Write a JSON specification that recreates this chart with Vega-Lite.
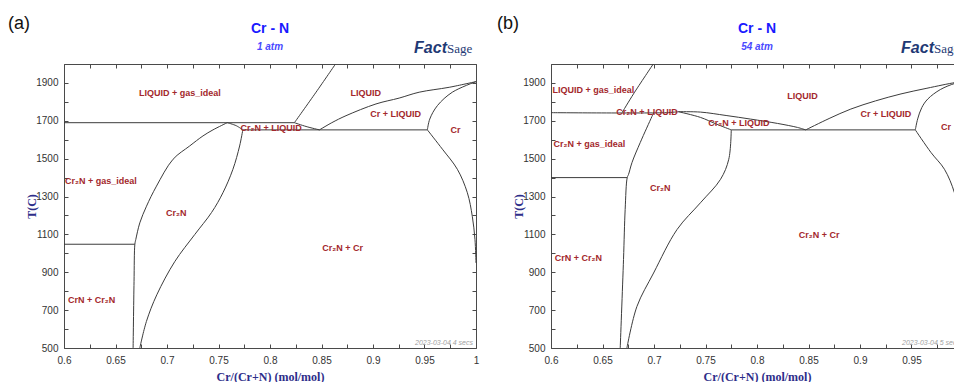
{
  "$schema": "https://vega.github.io/schema/vega-lite/v6.json",
  "usermeta": {"embedOptions": {"actions": false}},
  "padding": {"left": 8, "top": 15, "right": 0, "bottom": 0},
  "spacing": 18,
  "config": {
    "view": {"stroke": null},
    "axis": {
      "grid": false,
      "domainColor": "#4a4a4a",
      "tickColor": "#4a4a4a",
      "labelFont": "Liberation Sans",
      "labelFontSize": 10,
      "labelColor": "#333333",
      "labelFlush": false,
      "labelOverlap": false,
      "titleFont": "Liberation Serif",
      "titleFontSize": 12,
      "titleFontWeight": "bold",
      "titleColor": "#2e2e8a"
    }
  },
  "datasets": {
    "lines": [
      {"p": "a", "s": "a1", "i": 0, "x": 0.6, "t": 1690},
      {"p": "a", "s": "a1", "i": 1, "x": 0.8237, "t": 1690},
      {"p": "a", "s": "a2", "i": 0, "x": 0.8237, "t": 1690},
      {"p": "a", "s": "a2", "i": 1, "x": 0.8447, "t": 1851},
      {"p": "a", "s": "a2", "i": 2, "x": 0.8636, "t": 2000},
      {"p": "a", "s": "a3", "i": 0, "x": 0.8237, "t": 1690},
      {"p": "a", "s": "a3", "i": 1, "x": 0.835, "t": 1670},
      {"p": "a", "s": "a3", "i": 2, "x": 0.848, "t": 1652},
      {"p": "a", "s": "a4", "i": 0, "x": 0.7736, "t": 1652},
      {"p": "a", "s": "a4", "i": 1, "x": 0.9528, "t": 1652},
      {"p": "a", "s": "a5", "i": 0, "x": 0.848, "t": 1652},
      {"p": "a", "s": "a5", "i": 1, "x": 0.86, "t": 1690},
      {"p": "a", "s": "a5", "i": 2, "x": 0.8738, "t": 1727},
      {"p": "a", "s": "a5", "i": 3, "x": 0.9029, "t": 1789},
      {"p": "a", "s": "a5", "i": 4, "x": 0.9254, "t": 1820},
      {"p": "a", "s": "a5", "i": 5, "x": 0.9448, "t": 1851},
      {"p": "a", "s": "a5", "i": 6, "x": 0.974, "t": 1877},
      {"p": "a", "s": "a5", "i": 7, "x": 1.0, "t": 1907},
      {"p": "a", "s": "a6", "i": 0, "x": 0.9528, "t": 1652},
      {"p": "a", "s": "a6", "i": 1, "x": 0.9551, "t": 1709},
      {"p": "a", "s": "a6", "i": 2, "x": 0.9625, "t": 1780},
      {"p": "a", "s": "a6", "i": 3, "x": 0.977, "t": 1851},
      {"p": "a", "s": "a6", "i": 4, "x": 1.0, "t": 1907},
      {"p": "a", "s": "a7", "i": 0, "x": 0.9528, "t": 1652},
      {"p": "a", "s": "a7", "i": 1, "x": 0.9674, "t": 1550},
      {"p": "a", "s": "a7", "i": 2, "x": 0.9819, "t": 1444},
      {"p": "a", "s": "a7", "i": 3, "x": 0.9916, "t": 1320},
      {"p": "a", "s": "a7", "i": 4, "x": 0.9964, "t": 1196},
      {"p": "a", "s": "a7", "i": 5, "x": 0.999, "t": 1073},
      {"p": "a", "s": "a7", "i": 6, "x": 1.0, "t": 949},
      {"p": "a", "s": "a8", "i": 0, "x": 0.7585, "t": 1690},
      {"p": "a", "s": "a8", "i": 1, "x": 0.7446, "t": 1652},
      {"p": "a", "s": "a8", "i": 2, "x": 0.7349, "t": 1620},
      {"p": "a", "s": "a8", "i": 3, "x": 0.722, "t": 1567},
      {"p": "a", "s": "a8", "i": 4, "x": 0.7059, "t": 1497},
      {"p": "a", "s": "a8", "i": 5, "x": 0.6898, "t": 1355},
      {"p": "a", "s": "a8", "i": 6, "x": 0.6801, "t": 1249},
      {"p": "a", "s": "a8", "i": 7, "x": 0.6736, "t": 1161},
      {"p": "a", "s": "a8", "i": 8, "x": 0.6697, "t": 1073},
      {"p": "a", "s": "a8", "i": 9, "x": 0.6688, "t": 1048},
      {"p": "a", "s": "a8", "i": 10, "x": 0.668, "t": 850},
      {"p": "a", "s": "a8", "i": 11, "x": 0.6671, "t": 500},
      {"p": "a", "s": "a9", "i": 0, "x": 0.7585, "t": 1690},
      {"p": "a", "s": "a9", "i": 1, "x": 0.7673, "t": 1674},
      {"p": "a", "s": "a9", "i": 2, "x": 0.7736, "t": 1652},
      {"p": "a", "s": "a10", "i": 0, "x": 0.7736, "t": 1652},
      {"p": "a", "s": "a10", "i": 1, "x": 0.7705, "t": 1567},
      {"p": "a", "s": "a10", "i": 2, "x": 0.764, "t": 1444},
      {"p": "a", "s": "a10", "i": 3, "x": 0.7543, "t": 1320},
      {"p": "a", "s": "a10", "i": 4, "x": 0.7433, "t": 1216},
      {"p": "a", "s": "a10", "i": 5, "x": 0.7269, "t": 1099},
      {"p": "a", "s": "a10", "i": 6, "x": 0.7075, "t": 956},
      {"p": "a", "s": "a10", "i": 7, "x": 0.6901, "t": 781},
      {"p": "a", "s": "a10", "i": 8, "x": 0.68, "t": 640},
      {"p": "a", "s": "a10", "i": 9, "x": 0.6736, "t": 500},
      {"p": "a", "s": "a11", "i": 0, "x": 0.6, "t": 1048},
      {"p": "a", "s": "a11", "i": 1, "x": 0.6688, "t": 1048},

      {"p": "b", "s": "b1", "i": 0, "x": 0.6, "t": 1743},
      {"p": "b", "s": "b1", "i": 1, "x": 0.712, "t": 1743},
      {"p": "b", "s": "b1", "i": 2, "x": 0.7237, "t": 1748},
      {"p": "b", "s": "b2", "i": 0, "x": 0.669, "t": 1743},
      {"p": "b", "s": "b2", "i": 1, "x": 0.6801, "t": 1842},
      {"p": "b", "s": "b2", "i": 2, "x": 0.6993, "t": 2000},
      {"p": "b", "s": "b3", "i": 0, "x": 0.7237, "t": 1748},
      {"p": "b", "s": "b3", "i": 1, "x": 0.7451, "t": 1746},
      {"p": "b", "s": "b3", "i": 2, "x": 0.77, "t": 1728},
      {"p": "b", "s": "b3", "i": 3, "x": 0.7938, "t": 1709},
      {"p": "b", "s": "b3", "i": 4, "x": 0.82, "t": 1686},
      {"p": "b", "s": "b3", "i": 5, "x": 0.8393, "t": 1665},
      {"p": "b", "s": "b3", "i": 6, "x": 0.8473, "t": 1652},
      {"p": "b", "s": "b4", "i": 0, "x": 0.7237, "t": 1748},
      {"p": "b", "s": "b4", "i": 1, "x": 0.7451, "t": 1718},
      {"p": "b", "s": "b4", "i": 2, "x": 0.76, "t": 1684},
      {"p": "b", "s": "b4", "i": 3, "x": 0.775, "t": 1652},
      {"p": "b", "s": "b5", "i": 0, "x": 0.775, "t": 1652},
      {"p": "b", "s": "b5", "i": 1, "x": 0.9537, "t": 1652},
      {"p": "b", "s": "b6", "i": 0, "x": 0.8473, "t": 1652},
      {"p": "b", "s": "b6", "i": 1, "x": 0.87, "t": 1712},
      {"p": "b", "s": "b6", "i": 2, "x": 0.8911, "t": 1762},
      {"p": "b", "s": "b6", "i": 3, "x": 0.915, "t": 1805},
      {"p": "b", "s": "b6", "i": 4, "x": 0.9398, "t": 1842},
      {"p": "b", "s": "b6", "i": 5, "x": 0.965, "t": 1872},
      {"p": "b", "s": "b6", "i": 6, "x": 0.9924, "t": 1902},
      {"p": "b", "s": "b6", "i": 7, "x": 1.0, "t": 1907},
      {"p": "b", "s": "b7", "i": 0, "x": 0.9537, "t": 1652},
      {"p": "b", "s": "b7", "i": 1, "x": 0.956, "t": 1710},
      {"p": "b", "s": "b7", "i": 2, "x": 0.96, "t": 1770},
      {"p": "b", "s": "b7", "i": 3, "x": 0.9658, "t": 1815},
      {"p": "b", "s": "b7", "i": 4, "x": 0.978, "t": 1865},
      {"p": "b", "s": "b7", "i": 5, "x": 0.9924, "t": 1898},
      {"p": "b", "s": "b7", "i": 6, "x": 1.0, "t": 1907},
      {"p": "b", "s": "b8", "i": 0, "x": 0.9537, "t": 1652},
      {"p": "b", "s": "b8", "i": 1, "x": 0.969, "t": 1532},
      {"p": "b", "s": "b8", "i": 2, "x": 0.982, "t": 1444},
      {"p": "b", "s": "b8", "i": 3, "x": 0.9917, "t": 1320},
      {"p": "b", "s": "b8", "i": 4, "x": 0.9964, "t": 1196},
      {"p": "b", "s": "b8", "i": 5, "x": 0.999, "t": 1073},
      {"p": "b", "s": "b8", "i": 6, "x": 1.0, "t": 949},
      {"p": "b", "s": "b9", "i": 0, "x": 0.6996, "t": 1743},
      {"p": "b", "s": "b9", "i": 1, "x": 0.698, "t": 1723},
      {"p": "b", "s": "b9", "i": 2, "x": 0.6867, "t": 1586},
      {"p": "b", "s": "b9", "i": 3, "x": 0.6786, "t": 1479},
      {"p": "b", "s": "b9", "i": 4, "x": 0.6753, "t": 1417},
      {"p": "b", "s": "b9", "i": 5, "x": 0.674, "t": 1400},
      {"p": "b", "s": "b9", "i": 6, "x": 0.672, "t": 1232},
      {"p": "b", "s": "b9", "i": 7, "x": 0.6704, "t": 967},
      {"p": "b", "s": "b9", "i": 8, "x": 0.6672, "t": 500},
      {"p": "b", "s": "b10", "i": 0, "x": 0.6, "t": 1400},
      {"p": "b", "s": "b10", "i": 1, "x": 0.674, "t": 1400},
      {"p": "b", "s": "b11", "i": 0, "x": 0.775, "t": 1652},
      {"p": "b", "s": "b11", "i": 1, "x": 0.7726, "t": 1497},
      {"p": "b", "s": "b11", "i": 2, "x": 0.7646, "t": 1391},
      {"p": "b", "s": "b11", "i": 3, "x": 0.7451, "t": 1267},
      {"p": "b", "s": "b11", "i": 4, "x": 0.7224, "t": 1126},
      {"p": "b", "s": "b11", "i": 5, "x": 0.6996, "t": 896},
      {"p": "b", "s": "b11", "i": 6, "x": 0.6834, "t": 719},
      {"p": "b", "s": "b11", "i": 7, "x": 0.6737, "t": 500}
    ],
    "phases": [
      {"p": "a", "text": "LIQUID + gas_ideal", "x": 0.7124, "t": 1845},
      {"p": "a", "text": "Cr₂N + gas_ideal", "x": 0.6357, "t": 1382},
      {"p": "a", "text": "Cr₂N", "x": 0.709, "t": 1214},
      {"p": "a", "text": "Cr₂N + LIQUID", "x": 0.801, "t": 1661},
      {"p": "a", "text": "LIQUID", "x": 0.893, "t": 1845},
      {"p": "a", "text": "Cr + LIQUID", "x": 0.922, "t": 1736},
      {"p": "a", "text": "Cr", "x": 0.98, "t": 1652},
      {"p": "a", "text": "Cr₂N + Cr", "x": 0.8705, "t": 1029},
      {"p": "a", "text": "CrN + Cr₂N", "x": 0.6268, "t": 755},
      {"p": "b", "text": "LIQUID + gas_ideal", "x": 0.6412, "t": 1864},
      {"p": "b", "text": "Cr₂N + LIQUID", "x": 0.6932, "t": 1745},
      {"p": "b", "text": "Cr₂N + gas_ideal", "x": 0.6373, "t": 1577},
      {"p": "b", "text": "Cr₂N", "x": 0.7061, "t": 1347},
      {"p": "b", "text": "Cr₂N + LIQUID", "x": 0.7824, "t": 1688},
      {"p": "b", "text": "LIQUID", "x": 0.8441, "t": 1833},
      {"p": "b", "text": "Cr + LIQUID", "x": 0.9252, "t": 1736},
      {"p": "b", "text": "Cr", "x": 0.9836, "t": 1665},
      {"p": "b", "text": "Cr₂N + Cr", "x": 0.8603, "t": 1099},
      {"p": "b", "text": "CrN + Cr₂N", "x": 0.6266, "t": 976}
    ]
  },
  "hconcat": [
    {
      "width": 412,
      "height": 284,
      "resolve": {"axis": {"x": "independent", "y": "independent"}},
      "layer": [
        {
          "data": {"name": "lines"},
          "transform": [{"filter": "datum.p === 'a'"}],
          "mark": {"type": "line", "color": "#3c3c3c", "strokeWidth": 1, "interpolate": "catmull-rom"},
          "encoding": {
            "x": {"field": "x", "type": "quantitative", "scale": {"domain": [0.6, 1], "nice": false, "zero": false},
              "axis": {"orient": "bottom", "title": "Cr/(Cr+N) (mol/mol)", "values": [0.6, 0.625, 0.65, 0.675, 0.7, 0.725, 0.75, 0.775, 0.8, 0.825, 0.85, 0.875, 0.9, 0.925, 0.95, 0.975, 1.0],
                "format": "~g", "labelExpr": "round(datum.value * 40) % 2 == 0 ? datum.label : ''", "tickSize": -4, "labelPadding": 11, "titlePadding": 6}},
            "y": {"field": "t", "type": "quantitative", "scale": {"domain": [500, 2000], "nice": false, "zero": false},
              "axis": {"orient": "left", "title": "T(C)", "values": [500, 600, 700, 800, 900, 1000, 1100, 1200, 1300, 1400, 1500, 1600, 1700, 1800, 1900, 2000],
                "format": "d", "labelExpr": "round(datum.value / 100) % 2 == 1 ? datum.label : ''", "tickSize": -4, "labelPadding": 10, "titlePadding": -3}},
            "detail": {"field": "s"},
            "order": {"field": "i"}
          }
        },
        {
          "data": {"name": "phases"},
          "transform": [{"filter": "datum.p === 'a'"}],
          "mark": {"type": "text", "font": "Liberation Sans", "fontSize": 9, "fontWeight": "bold", "color": "#a3282c", "align": "center", "baseline": "middle"},
          "encoding": {
            "x": {"field": "x", "type": "quantitative",
              "axis": {"orient": "top", "title": null, "labels": false, "values": [0.6, 0.625, 0.65, 0.675, 0.7, 0.725, 0.75, 0.775, 0.8, 0.825, 0.85, 0.875, 0.9, 0.925, 0.95, 0.975, 1.0], "tickSize": -4}},
            "y": {"field": "t", "type": "quantitative",
              "axis": {"orient": "right", "title": null, "labels": false, "values": [500, 600, 700, 800, 900, 1000, 1100, 1200, 1300, 1400, 1500, 1600, 1700, 1800, 1900, 2000], "tickSize": -4}},
            "text": {"field": "text"}
          }
        },
        {
          "data": {"values": [{}]},
          "mark": {"type": "text", "text": "2023-03-04  4 secs", "font": "Liberation Sans", "fontSize": 7, "fontStyle": "italic", "color": "#a0a0a0", "align": "right", "baseline": "middle", "dx": -3, "dy": -5},
          "encoding": {"x": {"datum": 1.0, "type": "quantitative", "axis": null}, "y": {"datum": 500, "type": "quantitative", "axis": null}}
        },
        {
          "data": {"values": [{}]},
          "mark": {"type": "text", "text": "Cr - N", "font": "Liberation Sans", "fontSize": 14, "fontWeight": "bold", "color": "#1a1aff", "align": "center", "baseline": "middle", "dy": -35},
          "encoding": {"x": {"datum": 0.8, "type": "quantitative", "axis": null}, "y": {"datum": 2000, "type": "quantitative", "axis": null}}
        },
        {
          "data": {"values": [{}]},
          "mark": {"type": "text", "text": "1 atm", "font": "Liberation Sans", "fontSize": 10, "fontWeight": "bold", "fontStyle": "italic", "color": "#4a4aff", "align": "center", "baseline": "middle", "dy": -17},
          "encoding": {"x": {"datum": 0.8, "type": "quantitative", "axis": null}, "y": {"datum": 2000, "type": "quantitative", "axis": null}}
        },
        {
          "data": {"values": [{}]},
          "mark": {"type": "text", "text": "(a)", "font": "Liberation Sans", "fontSize": 18, "color": "#111111", "align": "left", "baseline": "middle", "dx": -56, "dy": -40},
          "encoding": {"x": {"datum": 0.6, "type": "quantitative", "axis": null}, "y": {"datum": 2000, "type": "quantitative", "axis": null}}
        },
        {
          "data": {"values": [{}]},
          "mark": {"type": "text", "text": "Fact", "font": "Liberation Sans", "fontSize": 16, "fontWeight": "bold", "fontStyle": "italic", "color": "#1f3a75", "align": "right", "baseline": "middle", "dx": -29, "dy": -16},
          "encoding": {"x": {"datum": 1.0, "type": "quantitative", "axis": null}, "y": {"datum": 2000, "type": "quantitative", "axis": null}}
        },
        {
          "data": {"values": [{}]},
          "mark": {"type": "text", "text": "Sage", "font": "Liberation Serif", "fontSize": 13, "color": "#1f3a75", "align": "left", "baseline": "middle", "dx": -29, "dy": -15},
          "encoding": {"x": {"datum": 1.0, "type": "quantitative", "axis": null}, "y": {"datum": 2000, "type": "quantitative", "axis": null}}
        }
      ]
    },
    {
      "width": 412,
      "height": 284,
      "resolve": {"axis": {"x": "independent", "y": "independent"}},
      "layer": [
        {
          "data": {"name": "lines"},
          "transform": [{"filter": "datum.p === 'b'"}],
          "mark": {"type": "line", "color": "#3c3c3c", "strokeWidth": 1, "interpolate": "catmull-rom"},
          "encoding": {
            "x": {"field": "x", "type": "quantitative", "scale": {"domain": [0.6, 1], "nice": false, "zero": false},
              "axis": {"orient": "bottom", "title": "Cr/(Cr+N) (mol/mol)", "values": [0.6, 0.625, 0.65, 0.675, 0.7, 0.725, 0.75, 0.775, 0.8, 0.825, 0.85, 0.875, 0.9, 0.925, 0.95, 0.975, 1.0],
                "format": "~g", "labelExpr": "round(datum.value * 40) % 2 == 0 ? datum.label : ''", "tickSize": -4, "labelPadding": 11, "titlePadding": 6}},
            "y": {"field": "t", "type": "quantitative", "scale": {"domain": [500, 2000], "nice": false, "zero": false},
              "axis": {"orient": "left", "title": "T(C)", "values": [500, 600, 700, 800, 900, 1000, 1100, 1200, 1300, 1400, 1500, 1600, 1700, 1800, 1900, 2000],
                "format": "d", "labelExpr": "round(datum.value / 100) % 2 == 1 ? datum.label : ''", "tickSize": -4, "labelPadding": 10, "titlePadding": -3}},
            "detail": {"field": "s"},
            "order": {"field": "i"}
          }
        },
        {
          "data": {"name": "phases"},
          "transform": [{"filter": "datum.p === 'b'"}],
          "mark": {"type": "text", "font": "Liberation Sans", "fontSize": 9, "fontWeight": "bold", "color": "#a3282c", "align": "center", "baseline": "middle"},
          "encoding": {
            "x": {"field": "x", "type": "quantitative",
              "axis": {"orient": "top", "title": null, "labels": false, "values": [0.6, 0.625, 0.65, 0.675, 0.7, 0.725, 0.75, 0.775, 0.8, 0.825, 0.85, 0.875, 0.9, 0.925, 0.95, 0.975, 1.0], "tickSize": -4}},
            "y": {"field": "t", "type": "quantitative",
              "axis": {"orient": "right", "title": null, "labels": false, "values": [500, 600, 700, 800, 900, 1000, 1100, 1200, 1300, 1400, 1500, 1600, 1700, 1800, 1900, 2000], "tickSize": -4}},
            "text": {"field": "text"}
          }
        },
        {
          "data": {"values": [{}]},
          "mark": {"type": "text", "text": "2023-03-04  5 secs", "font": "Liberation Sans", "fontSize": 7, "fontStyle": "italic", "color": "#a0a0a0", "align": "right", "baseline": "middle", "dx": -3, "dy": -5},
          "encoding": {"x": {"datum": 1.0, "type": "quantitative", "axis": null}, "y": {"datum": 500, "type": "quantitative", "axis": null}}
        },
        {
          "data": {"values": [{}]},
          "mark": {"type": "text", "text": "Cr - N", "font": "Liberation Sans", "fontSize": 14, "fontWeight": "bold", "color": "#1a1aff", "align": "center", "baseline": "middle", "dy": -35},
          "encoding": {"x": {"datum": 0.8, "type": "quantitative", "axis": null}, "y": {"datum": 2000, "type": "quantitative", "axis": null}}
        },
        {
          "data": {"values": [{}]},
          "mark": {"type": "text", "text": "54 atm", "font": "Liberation Sans", "fontSize": 10, "fontWeight": "bold", "fontStyle": "italic", "color": "#4a4aff", "align": "center", "baseline": "middle", "dy": -17},
          "encoding": {"x": {"datum": 0.8, "type": "quantitative", "axis": null}, "y": {"datum": 2000, "type": "quantitative", "axis": null}}
        },
        {
          "data": {"values": [{}]},
          "mark": {"type": "text", "text": "(b)", "font": "Liberation Sans", "fontSize": 18, "color": "#111111", "align": "left", "baseline": "middle", "dx": -54, "dy": -40},
          "encoding": {"x": {"datum": 0.6, "type": "quantitative", "axis": null}, "y": {"datum": 2000, "type": "quantitative", "axis": null}}
        },
        {
          "data": {"values": [{}]},
          "mark": {"type": "text", "text": "Fact", "font": "Liberation Sans", "fontSize": 16, "fontWeight": "bold", "fontStyle": "italic", "color": "#1f3a75", "align": "right", "baseline": "middle", "dx": -29, "dy": -16},
          "encoding": {"x": {"datum": 1.0, "type": "quantitative", "axis": null}, "y": {"datum": 2000, "type": "quantitative", "axis": null}}
        },
        {
          "data": {"values": [{}]},
          "mark": {"type": "text", "text": "Sage", "font": "Liberation Serif", "fontSize": 13, "color": "#1f3a75", "align": "left", "baseline": "middle", "dx": -29, "dy": -15},
          "encoding": {"x": {"datum": 1.0, "type": "quantitative", "axis": null}, "y": {"datum": 2000, "type": "quantitative", "axis": null}}
        }
      ]
    }
  ]
}
